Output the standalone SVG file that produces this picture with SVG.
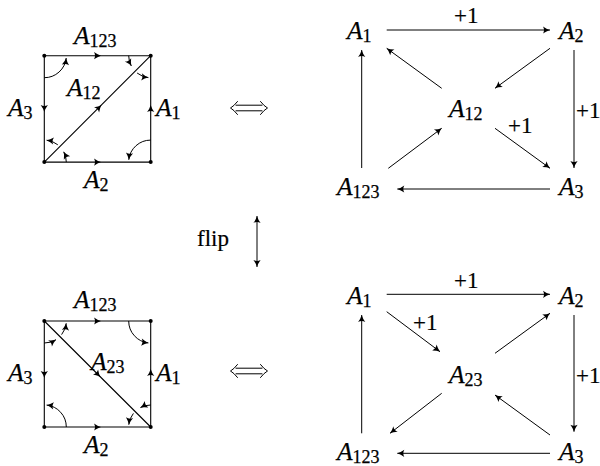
<svg xmlns="http://www.w3.org/2000/svg" width="600" height="466" viewBox="0 0 600 466">
<style>
.m{font-family:"Liberation Serif","Times New Roman",serif;font-style:italic;font-size:25.5px;fill:#000;stroke:#000;stroke-width:0.25}
.s{font-style:normal;font-size:18px}
.t{font-family:"Liberation Serif","Times New Roman",serif;font-size:23px;fill:#000;stroke:#000;stroke-width:0.2}
.e{fill:none;stroke:#000;stroke-width:1.1}
.mid{marker-mid:url(#ah)}
.arc{fill:none;stroke:#000;stroke-width:1;marker-end:url(#ah)}
.c{fill:none;stroke:#000;stroke-width:1;marker-end:url(#ah)}
.iff{fill:none;stroke:#000;stroke-width:1;stroke-linecap:round}
.dot{fill:#000}
</style>
<defs>
<marker id="ah" viewBox="-8 -4 9 8" refX="0" refY="0" markerWidth="9" markerHeight="8" markerUnits="userSpaceOnUse" orient="auto-start-reverse">
<path d="M0,0 Q-3.5,-1 -7,-3.6 Q-5,0 -7,3.6 Q-3.5,1 0,0Z" fill="#000"/>
</marker>
</defs>

<!-- top square -->
<g id="square-top">
<g id="sq1-edges">
<polyline class="e mid" points="44.3,55.7 101,55.7 150.7,55.7"/>
<polyline class="e mid" points="150.7,162.1 150.7,105 150.7,55.7"/>
<polyline class="e mid" points="44.3,162.1 101,162.1 150.7,162.1"/>
<polyline class="e mid" points="44.3,55.7 44.3,112 44.3,162.1"/>
<polyline class="e mid" points="44.3,162.1 101.5,104.9 150.7,55.7"/>
</g>
<g id="sq1-angles">
<path class="arc" d="M44.3,77.7 A22,22 0 0 0 66.2,58"/>
<path class="arc" d="M128.7,55.7 A22,22 0 0 0 131.3,66"/>
<path class="arc" d="M137.1,73 A22,22 0 0 0 148.4,77.6"/>
<path class="arc" d="M66.3,162.1 A22,22 0 0 0 63.7,151.8"/>
<path class="arc" d="M57.8,144.8 A22,22 0 0 0 46.6,140.2"/>
<path class="arc" d="M150.7,140.1 A22,22 0 0 0 128.8,159.8"/>
</g>
<g id="sq1-dots">
<circle class="dot" cx="44.3" cy="55.7" r="2"/>
<circle class="dot" cx="150.7" cy="55.7" r="2"/>
<circle class="dot" cx="44.3" cy="162.1" r="2"/>
<circle class="dot" cx="150.7" cy="162.1" r="2"/>
</g>
<g id="sq1-labels">
<text class="m" x="74" y="43.5">A<tspan class="s" dy="3">123</tspan></text>
<text class="m" x="8" y="116">A<tspan class="s" dy="3">3</tspan></text>
<text class="m" x="67" y="96">A<tspan class="s" dy="3">12</tspan></text>
<text class="m" x="156" y="116">A<tspan class="s" dy="3">1</tspan></text>
<text class="m" x="84" y="188">A<tspan class="s" dy="3">2</tspan></text>
</g>
</g>

<!-- bottom square -->
<g id="square-bottom">
<g id="sq2-edges">
<polyline class="e mid" points="44.3,321 101,321 150.7,321"/>
<polyline class="e mid" points="150.7,427 150.7,369 150.7,321"/>
<polyline class="e mid" points="44.3,427 101,427 150.7,427"/>
<polyline class="e mid" points="44.3,321 44.3,378 44.3,427"/>
<polyline class="e mid" points="44.3,321 100.5,377 150.7,427"/>
</g>
<g id="sq2-angles">
<path class="arc" d="M44.3,343 A22,22 0 0 0 56,339.7"/>
<path class="arc" d="M61.6,334.6 A22,22 0 0 0 66.2,323.3"/>
<path class="arc" d="M128.7,321 A22,22 0 0 0 148.4,342.9"/>
<path class="arc" d="M150.7,405 A22,22 0 0 0 140.4,407.6"/>
<path class="arc" d="M133.4,413.4 A22,22 0 0 0 128.8,424.7"/>
<path class="arc" d="M66.3,427 A22,22 0 0 0 46.6,405.1"/>
</g>
<g id="sq2-dots">
<circle class="dot" cx="44.3" cy="321" r="2"/>
<circle class="dot" cx="150.7" cy="321" r="2"/>
<circle class="dot" cx="44.3" cy="427" r="2"/>
<circle class="dot" cx="150.7" cy="427" r="2"/>
</g>
<g id="sq2-labels">
<text class="m" x="74" y="308">A<tspan class="s" dy="3">123</tspan></text>
<text class="m" x="8" y="381">A<tspan class="s" dy="3">3</tspan></text>
<text class="m" x="91" y="370">A<tspan class="s" dy="3">23</tspan></text>
<text class="m" x="156" y="381">A<tspan class="s" dy="3">1</tspan></text>
<text class="m" x="84" y="453">A<tspan class="s" dy="3">2</tspan></text>
</g>
</g>

<g id="flip"><text class="t" x="197" y="246">flip</text></g>

<!-- top graph nodes -->
<g id="g1-A1"><text class="m" x="347" y="39">A<tspan class="s" dy="3">1</tspan></text></g>
<g id="g1-A2"><text class="m" x="559" y="39">A<tspan class="s" dy="3">2</tspan></text></g>
<g id="g1-A12"><text class="m" x="449" y="116.5">A<tspan class="s" dy="3">12</tspan></text></g>
<g id="g1-A123"><text class="m" x="337" y="195">A<tspan class="s" dy="3">123</tspan></text></g>
<g id="g1-A3"><text class="m" x="559" y="195">A<tspan class="s" dy="3">3</tspan></text></g>

<!-- bottom graph nodes -->
<g id="g2-A1"><text class="m" x="347" y="304">A<tspan class="s" dy="3">1</tspan></text></g>
<g id="g2-A2"><text class="m" x="559" y="304">A<tspan class="s" dy="3">2</tspan></text></g>
<g id="g2-A23"><text class="m" x="449" y="383">A<tspan class="s" dy="3">23</tspan></text></g>
<g id="g2-A123"><text class="m" x="337" y="460">A<tspan class="s" dy="3">123</tspan></text></g>
<g id="g2-A3"><text class="m" x="559" y="460">A<tspan class="s" dy="3">3</tspan></text></g>

<!-- connectors -->
<g id="connectors">
<g id="iff-top">
<path class="iff" d="M236,105.2 H262 M236,110.8 H262 M237.5,101.5 Q234,106 230.5,108 Q234,110 237.5,114.5 M260.5,101.5 Q264,106 267.5,108 Q264,110 260.5,114.5"/>
</g>
<g id="iff-bottom">
<path class="iff" d="M236,368.2 H262 M236,373.8 H262 M237.5,364.5 Q234,369 230.5,371 Q234,373 237.5,377.5 M260.5,364.5 Q264,369 267.5,371 Q264,373 260.5,377.5"/>
</g>
<line class="c" x1="257" y1="241" x2="257" y2="216"/>
<line class="c" x1="257" y1="241" x2="257" y2="267"/>

<line class="c" x1="386.7" y1="30" x2="550" y2="30"/>
<line class="c" x1="574" y1="50" x2="574" y2="168"/>
<line class="c" x1="550" y1="189" x2="397.3" y2="189"/>
<line class="c" x1="361.7" y1="168" x2="361.7" y2="50"/>
<line class="c" x1="441.7" y1="88.3" x2="386.7" y2="48.3"/>
<line class="c" x1="550" y1="48.3" x2="495" y2="88.3"/>
<line class="c" x1="495" y1="128.3" x2="550" y2="168.3"/>
<line class="c" x1="388.3" y1="168.3" x2="441.7" y2="128.3"/>

<line class="c" x1="386.7" y1="294.3" x2="550" y2="294.3"/>
<line class="c" x1="574" y1="315" x2="574" y2="431.7"/>
<line class="c" x1="550" y1="453.3" x2="397.3" y2="453.3"/>
<line class="c" x1="361.7" y1="433.3" x2="361.7" y2="315"/>
<line class="c" x1="386.7" y1="311.7" x2="440" y2="351.7"/>
<line class="c" x1="495" y1="353.3" x2="550" y2="313.3"/>
<line class="c" x1="441.7" y1="393.3" x2="390" y2="433.3"/>
<line class="c" x1="550" y1="435" x2="495" y2="395"/>
</g>

<g id="edge-labels">
<text class="t" x="454" y="23">+1</text>
<text class="t" x="576" y="118">+1</text>
<text class="t" x="508" y="133">+1</text>
<text class="t" x="454" y="288">+1</text>
<text class="t" x="576" y="383">+1</text>
<text class="t" x="413" y="330">+1</text>
</g>
</svg>
